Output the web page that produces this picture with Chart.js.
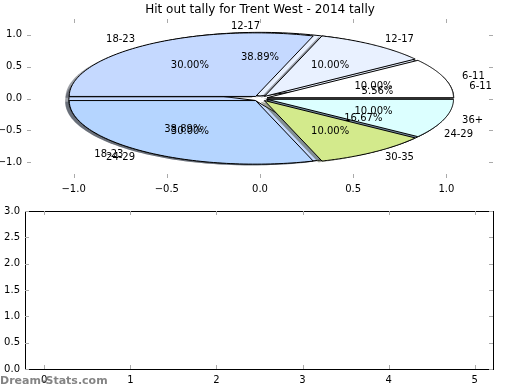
<!DOCTYPE html>
<html lang="en">
<head>
    <meta charset="UTF-8">
    <title>Hit out tally</title>
    <script src="https://cdn.jsdelivr.net/npm/chart.js"></script>
    <style>
        body { margin: 0; background: #fff; }
        #wrap { position: relative; width: 520px; height: 390px; }
        #pieChart { position: absolute; left: 0; top: 0; }
        #barChart { position: absolute; left: 0; top: 200px; }
    </style>
</head>
<body>
<div id="wrap">
    <canvas id="pieChart" width="520" height="200"></canvas>
    <canvas id="barChart" width="520" height="190"></canvas>
</div>

<script>
    // first pie (drawn underneath)
    const innerLabels = ['6-11', '12-17', '18-23', '24-29'];
    const innerValues = [1, 7, 7, 3];

    // second pie (drawn on top)
    const outerLabels = ['6-11', '12-17', '18-23', '24-29', '30-35', '36+'];
    const outerValues = [1, 1, 3, 3, 1, 1];

    const sliceColors = {
        '6-11': '#ffffff',
        '12-17': '#e9f1ff',
        '18-23': '#c5d9ff',
        '24-29': '#b5d5ff',
        '30-35': '#d3ea8c',
        '36+': '#dcffff'
    };

    const pieTicks = [-1.0, -0.5, 0.0, 0.5, 1.0];
    const barXTicks = [0, 1, 2, 3, 4, 5];
    const barYTicks = [0, 0.5, 1.0, 1.5, 2.0, 2.5, 3.0];
    const barValues = [];

    const titleText = 'Hit out tally for Trent West - 2014 tally';
    const font = '"DejaVu Sans", sans-serif';

    function fmt(v) {
        let s = Math.abs(v).toFixed(1);
        return v < 0 ? '\u2212' + s : s;
    }

    // matplotlib-like inward tick marks on all four sides
    function drawTickMarks(chart, xt, yt) {
        const {ctx, chartArea: a, scales: {x, y}} = chart;
        ctx.save();
        ctx.strokeStyle = '#aaa';
        ctx.lineWidth = 1;
        ctx.beginPath();
        xt.forEach(v => {
            let p = Math.round(x.getPixelForValue(v)) + 0.5;
            ctx.moveTo(p, a.top); ctx.lineTo(p, a.top + 4);
            ctx.moveTo(p, a.bottom); ctx.lineTo(p, a.bottom - 4);
        });
        yt.forEach(v => {
            let p = Math.round(y.getPixelForValue(v)) + 0.5;
            ctx.moveTo(a.left, p); ctx.lineTo(a.left + 4, p);
            ctx.moveTo(a.right, p); ctx.lineTo(a.right - 4, p);
        });
        ctx.stroke();
        ctx.restore();
    }

    function slices(labels, values, explode) {
        let total = values.reduce((s, v) => s + v, 0);
        let acc = 0;
        return labels.map((lab, i) => {
            let a1 = 2 * Math.PI * acc / total;
            acc += values[i];
            let a2 = 2 * Math.PI * acc / total;
            let mid = (a1 + a2) / 2;
            return {
                label: lab, a1: a1, a2: a2, mid: mid,
                cx: explode * Math.cos(mid), cy: explode * Math.sin(mid),
                pct: (100 * values[i] / total).toFixed(2) + '%',
                color: sliceColors[lab]
            };
        });
    }

    function shade(hex) {
        let n = parseInt(hex.slice(1), 16);
        let r = (n >> 16) & 255, g = (n >> 8) & 255, b = n & 255;
        return 'rgba(' + Math.round(r * 0.3) + ',' + Math.round(g * 0.3) + ',' + Math.round(b * 0.3) + ',0.5)';
    }

    const piePlugin = {
        id: 'pieOnAxes',
        afterDatasetsDraw(chart) {
            const {ctx, scales: {x, y}} = chart;
            const px = v => x.getPixelForValue(v);
            const py = v => y.getPixelForValue(v);

            function wedge(s, dx, dy) {
                ctx.beginPath();
                ctx.moveTo(px(s.cx + dx), py(s.cy + dy));
                let n = 80;
                for (let i = 0; i <= n; i++) {
                    let t = s.a1 + (s.a2 - s.a1) * i / n;
                    ctx.lineTo(px(s.cx + dx + Math.cos(t)), py(s.cy + dy + Math.sin(t)));
                }
                ctx.closePath();
            }

            let pies = [
                slices(innerLabels, innerValues, 0.04),
                slices(outerLabels, outerValues, 0.04)
            ];

            ctx.save();
            ctx.lineJoin = 'round';
            pies.forEach(p => {
                p.forEach(s => {
                    wedge(s, -0.02, -0.02);
                    ctx.fillStyle = shade(s.color);
                    ctx.fill();
                });
                p.forEach(s => {
                    wedge(s, 0, 0);
                    ctx.fillStyle = s.color;
                    ctx.fill();
                    ctx.strokeStyle = '#000';
                    ctx.lineWidth = 1;
                    ctx.stroke();
                });
            });

            ctx.fillStyle = '#000';
            ctx.font = '10px ' + font;
            ctx.textBaseline = 'middle';
            pies.forEach(p => {
                p.forEach(s => {
                    let lx = s.cx + 1.1 * Math.cos(s.mid);
                    let ly = s.cy + 1.1 * Math.sin(s.mid);
                    ctx.textAlign = lx > 1e-9 ? 'left' : 'right';
                    ctx.fillText(s.label, px(lx), py(ly));
                    ctx.textAlign = 'center';
                    ctx.fillText(s.pct, px(s.cx + 0.6 * Math.cos(s.mid)), py(s.cy + 0.6 * Math.sin(s.mid)));
                });
            });

            ctx.font = '12px ' + font;
            ctx.textAlign = 'center';
            ctx.fillText(titleText, (chart.chartArea.left + chart.chartArea.right) / 2, 10);
            ctx.restore();

            drawTickMarks(chart, pieTicks, pieTicks);
        }
    };

    const framePlugin = {
        id: 'frame',
        afterDraw(chart) {
            const {ctx, chartArea: a} = chart;
            ctx.save();
            ctx.strokeStyle = '#000';
            ctx.lineWidth = 1;
            ctx.strokeRect(Math.round(a.left) + 0.5, Math.round(a.top) + 0.5,
                Math.round(a.right - a.left), Math.round(a.bottom - a.top));
            ctx.restore();
            drawTickMarks(chart, barXTicks, barYTicks);

            ctx.save();
            ctx.font = 'bold 11px ' + font;
            ctx.fillStyle = 'rgba(110,110,110,0.85)';
            ctx.textAlign = 'left';
            ctx.textBaseline = 'middle';
            ctx.fillText('Dream-Stats.com', 0, 181);
            ctx.restore();
        }
    };

    function axis(min, max, tickList, labelFmt, size, isX) {
        return {
            type: 'linear',
            min: min,
            max: max,
            offset: false,
            afterBuildTicks: s => { s.ticks = tickList.map(v => ({value: v})); },
            afterFit: s => { if (isX) s.height = size; else s.width = size; },
            grid: {display: false, drawTicks: false, offset: false},
            border: {display: false},
            ticks: {
                color: '#000',
                font: {family: font, size: 10},
                padding: 5,
                autoSkip: false,
                maxRotation: 0,
                callback: labelFmt
            }
        };
    }

    new Chart(document.getElementById('pieChart'), {
        type: 'scatter',
        data: {datasets: [{data: []}]},
        options: {
            responsive: false,
            animation: false,
            layout: {padding: {top: 19, right: 27, left: 0, bottom: 0}},
            plugins: {legend: {display: false}, tooltip: {enabled: false}},
            scales: {
                x: axis(-1.25, 1.25, pieTicks, v => fmt(v), 22, true),
                y: axis(-1.25, 1.25, pieTicks, v => fmt(v), 27, false)
            }
        },
        plugins: [piePlugin]
    });

    new Chart(document.getElementById('barChart'), {
        type: 'bar',
        data: {datasets: [{data: barValues, backgroundColor: '#b5d5ff'}]},
        options: {
            responsive: false,
            animation: false,
            layout: {padding: {top: 10, right: 27, left: 0, bottom: 0}},
            plugins: {legend: {display: false}, tooltip: {enabled: false}},
            scales: {
                x: axis(-0.224, 5.213, barXTicks, v => String(v), 21, true),
                y: axis(0, 3, barYTicks, v => v.toFixed(1), 25, false)
            }
        },
        plugins: [framePlugin]
    });
</script>
</body>
</html>
